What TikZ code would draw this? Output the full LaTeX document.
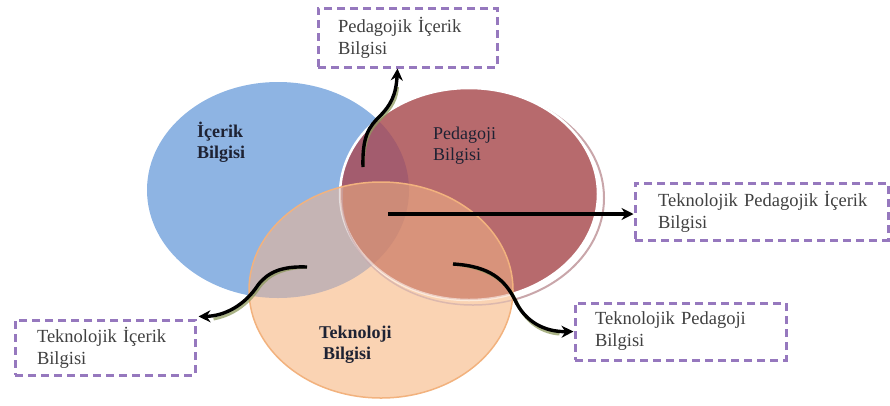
\documentclass[tikz,border=0pt]{standalone}
\usepackage{fontspec}
\setmainfont{Liberation Serif}
\usetikzlibrary{arrows.meta,calc}
\definecolor{cblue}{HTML}{8EB4E3}
\definecolor{cred}{HTML}{B76A6D}
\definecolor{cpeach}{HTML}{FAD3B3}
\definecolor{cpeachline}{HTML}{F2B27E}
\definecolor{cbr}{HTML}{A35C6E}
\definecolor{cbp}{HTML}{C5B4B4}
\definecolor{crp}{HTML}{D8937B}
\definecolor{call}{HTML}{CD8B78}
\definecolor{crim}{HTML}{C9A6AA}
\definecolor{cpurple}{HTML}{9678BE}
\definecolor{ctxt}{HTML}{404040}
\definecolor{clab}{HTML}{1E2233}
\definecolor{cshadow}{HTML}{8E9A5E}
\begin{document}
\begin{tikzpicture}[x=1pt,y=-1pt,
  dbox/.style={draw=cpurple, line width=3pt, dash pattern=on 8pt off 5pt,
    fill=white, rectangle, align=left, inner xsep=4pt, inner ysep=0pt,
    font=\fontsize{18.5}{22}\selectfont, text=ctxt},
  lab/.style={anchor=north west, inner sep=0pt, align=left, text=clab,
    font=\fontsize{18}{20.5}\selectfont},
  arr/.style={line width=3.4pt, black, -{Stealth[length=12pt,width=12pt]}},
  shad/.style={line width=3pt, cshadow, opacity=0.75, shift={(1.5,2)}}]
\useasboundingbox (0,0) rectangle (890,405);
% blue
\fill[cblue] (278,190) ellipse [x radius=131pt, y radius=108pt];
% red rim
\fill[white] (473,198) ellipse [x radius=131pt, y radius=107pt];
\draw[crim, line width=2pt] (473,198) ellipse [x radius=131pt, y radius=107pt];
% red
\fill[cred] (469,194) ellipse [x radius=129pt, y radius=106pt];
\begin{scope}
  \clip (278,190) ellipse [x radius=131pt, y radius=108pt];
  \fill[cbr] (469,194) ellipse [x radius=129pt, y radius=106pt];
\end{scope}
\draw[white, line width=2.5pt] (469,194) ellipse [x radius=129pt, y radius=106pt];
% peach
\fill[cpeach] (381,290) ellipse [x radius=132pt, y radius=108pt];
\begin{scope}
  \clip (381,290) ellipse [x radius=132pt, y radius=108pt];
  \fill[cbp] (278,190) ellipse [x radius=131pt, y radius=108pt];
  \fill[crp] (469,194) ellipse [x radius=129pt, y radius=106pt];
  \clip (278,190) ellipse [x radius=131pt, y radius=108pt];
  \fill[call] (469,194) ellipse [x radius=129pt, y radius=106pt];
\end{scope}
\begin{scope}
  \clip (381,290) ellipse [x radius=132pt, y radius=108pt];
  \draw[white, opacity=0.55, line width=2.5pt] (469,194) ellipse [x radius=129pt, y radius=106pt];
  \draw[crim, opacity=0.6, line width=1.5pt] (473,198) ellipse [x radius=131pt, y radius=107pt];
\end{scope}
\draw[cpeachline, line width=1.5pt] (381,290) ellipse [x radius=132pt, y radius=108pt];
% labels
\node[lab, font=\fontsize{18}{20.5}\selectfont\bfseries] (ic) at (197,122) {İçerik\\Bilgisi};
\node[lab] (pe) at (433,127) {Pedagoji\\Bilgisi};
\node[lab, font=\fontsize{18}{20.5}\selectfont\bfseries] (te) at (319,326) {Teknoloji\\\hspace*{4pt}Bilgisi};
% boxes
\node[dbox, minimum width=179pt, minimum height=59pt, text width=171pt] (tb) at (407.5,37.5) {\hspace*{16pt}Pedagojik İçerik\\\hspace*{16pt}Bilgisi};
\node[dbox, minimum width=253pt, minimum height=57pt, text width=245pt] (rb) at (761.5,211.5) {\hspace*{19pt}Teknolojik Pedagojik İçerik\\\hspace*{19pt}Bilgisi};
\node[dbox, minimum width=180pt, minimum height=55pt, text width=172pt] (bl) at (105,347.5) {\hspace*{18pt}Teknolojik İçerik\\\hspace*{18pt}Bilgisi};
\node[dbox, minimum width=211pt, minimum height=57pt, text width=203pt] (br) at (680.5,331.5) {\hspace*{16pt}Teknolojik Pedagoji\\\hspace*{16pt}Bilgisi};
% arrow starts
\coordinate (s1) at (363,167);
\coordinate (s2) at (388,214);
\coordinate (s3) at (307,267);
\coordinate (s4) at (453,264);
% shadows
\draw[shad] (s1) .. controls (362,135) and (370,126) .. (379,117) .. controls (391,105) and (395,97) .. (396,85);
\draw[shad] (s2) -- ($(s2 -| rb.west)+(-14,0)$);
\draw[shad] (s3) .. controls (282,266) and (268,272) .. (258,285) .. controls (245,305) and (228,314) .. (212,317);
\draw[shad] (s4) .. controls (490,266) and (505,280) .. (515,300) .. controls (525,322) and (542,331) .. (558,332);
% arrows
\draw[arr] (s1) .. controls (362,135) and (370,126) .. (379,117) .. controls (391,105) and (396,95) .. ($(tb.south)+(-10,0)$);
\draw[arr] (s2) -- (s2 -| rb.west);
\draw[arr] (s3) .. controls (282,266) and (268,272) .. (258,285) .. controls (245,305) and (225,316) .. ($(bl.north east)+(2,-2)$);
\draw[arr] (s4) .. controls (490,266) and (505,280) .. (515,300) .. controls (525,322) and (545,332) .. (br.west);
\end{tikzpicture}
\end{document}
